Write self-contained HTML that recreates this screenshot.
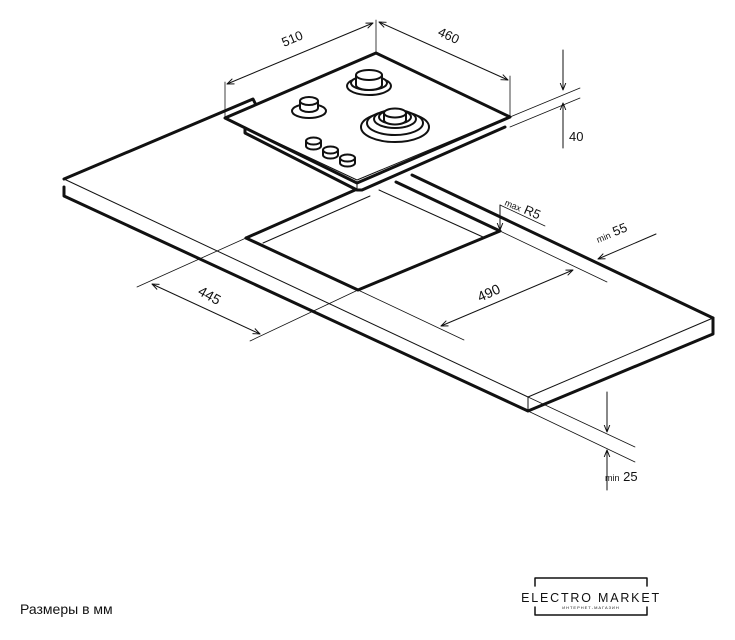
<!DOCTYPE html>
<html><head><meta charset="utf-8"><style>
html,body{margin:0;padding:0;background:#fff}
svg{display:block}
text{font-family:"Liberation Sans",sans-serif;fill:#111}
</style></head><body>
<svg width="735" height="640" viewBox="0 0 735 640" xmlns="http://www.w3.org/2000/svg">
<defs>
<marker id="a" viewBox="0 0 10 10" refX="10" refY="5" markerWidth="7" markerHeight="7" orient="auto-start-reverse"><path d="M0,1 L10,5 L0,9" fill="none" stroke="#111" stroke-width="1.4"/></marker>
</defs>
<g fill="none" stroke="#111" stroke-linecap="round" stroke-linejoin="round">
<path d="M64,187 L64,196 L528,411 L713,334 L713,318" stroke-width="3"/>
<path d="M64,179 L253,99 L255,103" stroke-width="3"/>
<path d="M64,179 L528,397 L713,318" stroke-width="1"/>
<path d="M528,397 L528,411" stroke-width="1"/>
<path d="M412,175 L713,318" stroke-width="3"/>
<path d="M246,238 L355,190" stroke-width="3"/>
<path d="M246,238 L358,290 L500,231 L396,182" stroke-width="3"/>
<path d="M263,243 L370,196" stroke-width="1"/>
<path d="M379,190 L483,237" stroke-width="1"/>
<path d="M500,231 L607,282" stroke-width="0.8"/>
<path d="M358,290 L464,340" stroke-width="0.8"/>
<path d="M246,238 L137,287" stroke-width="0.8"/>
<path d="M358,290 L250,341" stroke-width="0.8"/>
<path d="M500,205 L545,226" stroke-width="0.8"/>
<path d="M528,411 L635,462" stroke-width="0.8"/>
<path d="M528,397 L635,447" stroke-width="0.8"/>
<path d="M441,326 L573,270" stroke-width="1" marker-start="url(#a)" marker-end="url(#a)"/>
<path d="M152,284 L260,334" stroke-width="1" marker-start="url(#a)" marker-end="url(#a)"/>
<path d="M500,205 L500,230" stroke-width="1" marker-end="url(#a)"/>
<path d="M656,234 L598,259" stroke-width="1" marker-end="url(#a)"/>
<path d="M607,392 L607,432" stroke-width="1" marker-end="url(#a)"/>
<path d="M607,490 L607,450" stroke-width="1" marker-end="url(#a)"/>
<path d="M225,118 L376,53 L510,117 L357,183 Z" fill="#fff" stroke-width="3"/>
<path d="M229,120 L357,180 L506,118" stroke-width="1"/>
<path d="M245,128 L245,133 L357,190 L362,190 L505,127" stroke-width="3"/>
<path d="M357,183 L357,190" stroke-width="1"/>
<path d="M225,118 L225,82" stroke-width="0.8"/>
<path d="M376,53 L376,20" stroke-width="0.8"/>
<path d="M510,117 L510,76" stroke-width="0.8"/>
<path d="M227,84 L373,23" stroke-width="1" marker-start="url(#a)" marker-end="url(#a)"/>
<path d="M379,22 L508,80" stroke-width="1" marker-start="url(#a)" marker-end="url(#a)"/>
<path d="M510,117 L580,88" stroke-width="0.8"/>
<path d="M510,127 L580,98" stroke-width="0.8"/>
<path d="M563,50 L563,90" stroke-width="1" marker-end="url(#a)"/>
<path d="M563,148 L563,103" stroke-width="1" marker-end="url(#a)"/>
<g stroke-width="2">
<ellipse cx="369" cy="86" rx="22" ry="9" fill="#fff"/>
<ellipse cx="369" cy="83" rx="18" ry="7" fill="#fff"/>
<path d="M356,75 L356,85 A13,5 0 0 0 382,85 L382,75" fill="#fff"/>
<ellipse cx="369" cy="75" rx="13" ry="5" fill="#fff"/>
<ellipse cx="309" cy="111" rx="17" ry="7" fill="#fff"/>
<path d="M300,101 L300,108 A9,4 0 0 0 318,108 L318,101" fill="#fff"/>
<ellipse cx="309" cy="101" rx="9" ry="4" fill="#fff"/>
<ellipse cx="395" cy="127" rx="34" ry="15" fill="#fff"/>
<ellipse cx="395" cy="123" rx="28" ry="12" fill="#fff"/>
<ellipse cx="395" cy="119" rx="21" ry="9" fill="#fff"/>
<ellipse cx="395" cy="117" rx="16" ry="7" fill="#fff"/>
<path d="M384,113 L384,120 A11,4.5 0 0 0 406,120 L406,113" fill="#fff"/>
<ellipse cx="395" cy="113" rx="11" ry="4.5" fill="#fff"/>
<path d="M306,141 L306,146 A7.5,3.5 0 0 0 321,146 L321,141" fill="#fff"/><ellipse cx="313.5" cy="141" rx="7.5" ry="3.5" fill="#fff"/>
<path d="M323,150 L323,155 A7.5,3.5 0 0 0 338,155 L338,150" fill="#fff"/><ellipse cx="330.5" cy="150" rx="7.5" ry="3.5" fill="#fff"/>
<path d="M340,158 L340,163 A7.5,3.5 0 0 0 355,163 L355,158" fill="#fff"/><ellipse cx="347.5" cy="158" rx="7.5" ry="3.5" fill="#fff"/>
</g>
<path d="M535,586 L535,578 L647,578 L647,586" stroke-width="1.5"/>
<path d="M535,607 L535,615 L647,615 L647,607" stroke-width="1.5"/>
</g>
<g font-size="13">
<text transform="translate(284,47) rotate(-23)">510</text>
<text transform="translate(437,35) rotate(25)">460</text>
<text x="569" y="141">40</text>
<text transform="translate(480,302) rotate(-24)" font-size="14">490</text>
<text transform="translate(197,294) rotate(29)" font-size="14">445</text>
<text transform="translate(504,205) rotate(23)"><tspan font-size="9">max</tspan> R5</text>
<text transform="translate(598,243) rotate(-22)"><tspan font-size="9">min</tspan> 55</text>
<text x="605" y="481"><tspan font-size="9">min</tspan> 25</text>
<text x="20" y="614" font-size="14">Размеры в мм</text>
<text x="591" y="602" font-size="12.5" text-anchor="middle" letter-spacing="1.8">ELECTRO MARKET</text>
<text x="591" y="609" font-size="4" text-anchor="middle" letter-spacing="1">ИНТЕРНЕТ-МАГАЗИН</text>
</g>
</svg>
</body></html>
